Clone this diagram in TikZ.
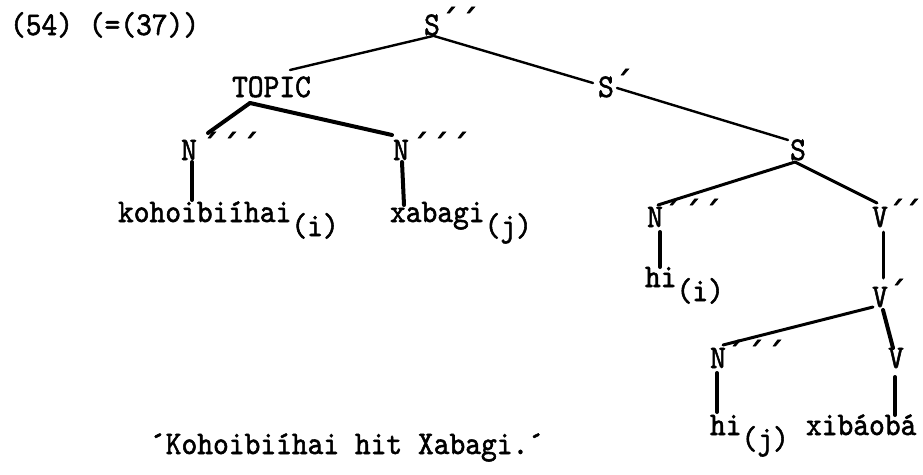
\documentclass[tikz,border=0pt]{standalone}
\usepackage{fontspec}
\setmonofont{lmmono10-regular.otf}[FakeBold=1.6, FakeStretch=0.91]
\newfontfamily\prfont{DejaVu Sans}[FakeBold=1.5]
\usetikzlibrary{calc}
\begin{document}
\begin{tikzpicture}[x=1pt,y=-1pt,
  txt/.style={font=\ttfamily\fontsize{33}{36}\selectfont, inner sep=0pt, outer sep=0pt},
  cat/.style={txt, anchor=base},
  word/.style={txt, anchor=base west},
  edge/.style={line width=3pt, line cap=round},
  thinedge/.style={line width=2.4pt, line cap=round},
  thickedge/.style={line width=4pt, line cap=round}]
\path[fill=white] (0,0) rectangle (923,474);
\useasboundingbox (0,0) rectangle (923,474);
\newcommand{\pr}[1]{\rlap{\raisebox{1pt}{\prfont\fontsize{34}{34}\selectfont#1}}}
\newcommand{\pa}{´}
\newcommand{\pb}{´\kern3pt´}
\newcommand{\pc}{´\kern3pt´\kern3pt´}
\newcommand{\sub}[1]{\raisebox{-14pt}{#1}}
% labels
\node[word] (num) at (10,35) {(54) (=(37))};
\node[cat] (Spp) at (432,35) {S\pr{\kern1pt\pb}};
\node[cat] (TOPIC) at (271.5,97) {TOPIC};
\node[cat] (Sp) at (606,97) {S\pr{\kern1pt\pa}};
\node[cat] (N1) at (189,160) {N\pr{\kern5pt\pc}};
\node[cat] (N2) at (401,160) {N\pr{\kern3pt\pc}};
\node[cat] (S) at (798,160) {S};
\node[word] (w1) at (118,222) {kohoibiíhai\sub{(i)}};
\node[word] (w2) at (390,222) {xabagi\sub{(j)}};
\node[cat] (N3) at (655,227) {N\pr{\kern1pt\pc}};
\node[cat] (Vpp) at (880,227) {V\pr{\kern0pt´\kern-1pt´}};
\node[word] (hi1) at (645,287) {hi\sub{(i)}};
\node[cat] (Vp) at (880,307) {V\pr{\kern1pt\pa}};
\node[cat] (N4) at (718,368) {N\pr{\kern1pt\pc}};
\node[cat] (V) at (896,368) {V};
\node[word] (hi2) at (710,435) {hi\sub{(j)}};
\node[word] (xib) at (806,435) {xibáobá};
\node[word] (cap) at (150,454) {´Kohoibiíhai hit Xabagi.´};
% connectors
\draw[thinedge] ($(Spp.base)+(1,1)$) -- ($(TOPIC.base)+(18.5,-27)$);
\draw[thinedge] ($(Spp.base)+(2,1)$) -- ($(Sp.base)+(-13,-14)$);
\draw[thinedge] ($(Sp.base)+(11,-9)$) -- ($(S.base)+(-10,-20)$);
\draw[thickedge] ($(TOPIC.base)+(-21.5,6)$) -- ($(N1.base)+(19,-27)$);
\draw[thickedge] ($(TOPIC.base)+(-21.5,6)$) -- ($(N2.base)+(-9,-25)$);
\draw[thickedge] ($(N1.base)+(3,2)$) -- ($(w1.base west)+(74,-22)$);
\draw[thickedge] ($(N2.base)+(1,2)$) -- ($(w2.base west)+(14,-17)$);
\draw[edge] ($(S.base)+(-3,2)$) -- ($(N3.base)+(3,-22)$);
\draw[edge] ($(S.base)+(-3,2)$) -- ($(Vpp.base)+(-3,-24)$);
\draw[thickedge] ($(N3.base)+(5,5)$) -- ($(hi1.base west)+(15,-20)$);
\draw[edge] ($(Vpp.base)+(3,5)$) -- ($(Vp.base)+(3,-29)$);
\draw[edge] ($(Vp.base)+(-7,0)$) -- ($(N4.base)+(5,-23)$);
\draw[thickedge] ($(Vp.base)+(3,3)$) -- ($(V.base)+(-3,-20)$);
\draw[thickedge] ($(N4.base)+(-1,5)$) -- ($(hi2.base west)+(7,-23)$);
\draw[thickedge] ($(V.base)+(-1,9)$) -- ($(xib.base west)+(89,-20)$);
\end{tikzpicture}
\end{document}
